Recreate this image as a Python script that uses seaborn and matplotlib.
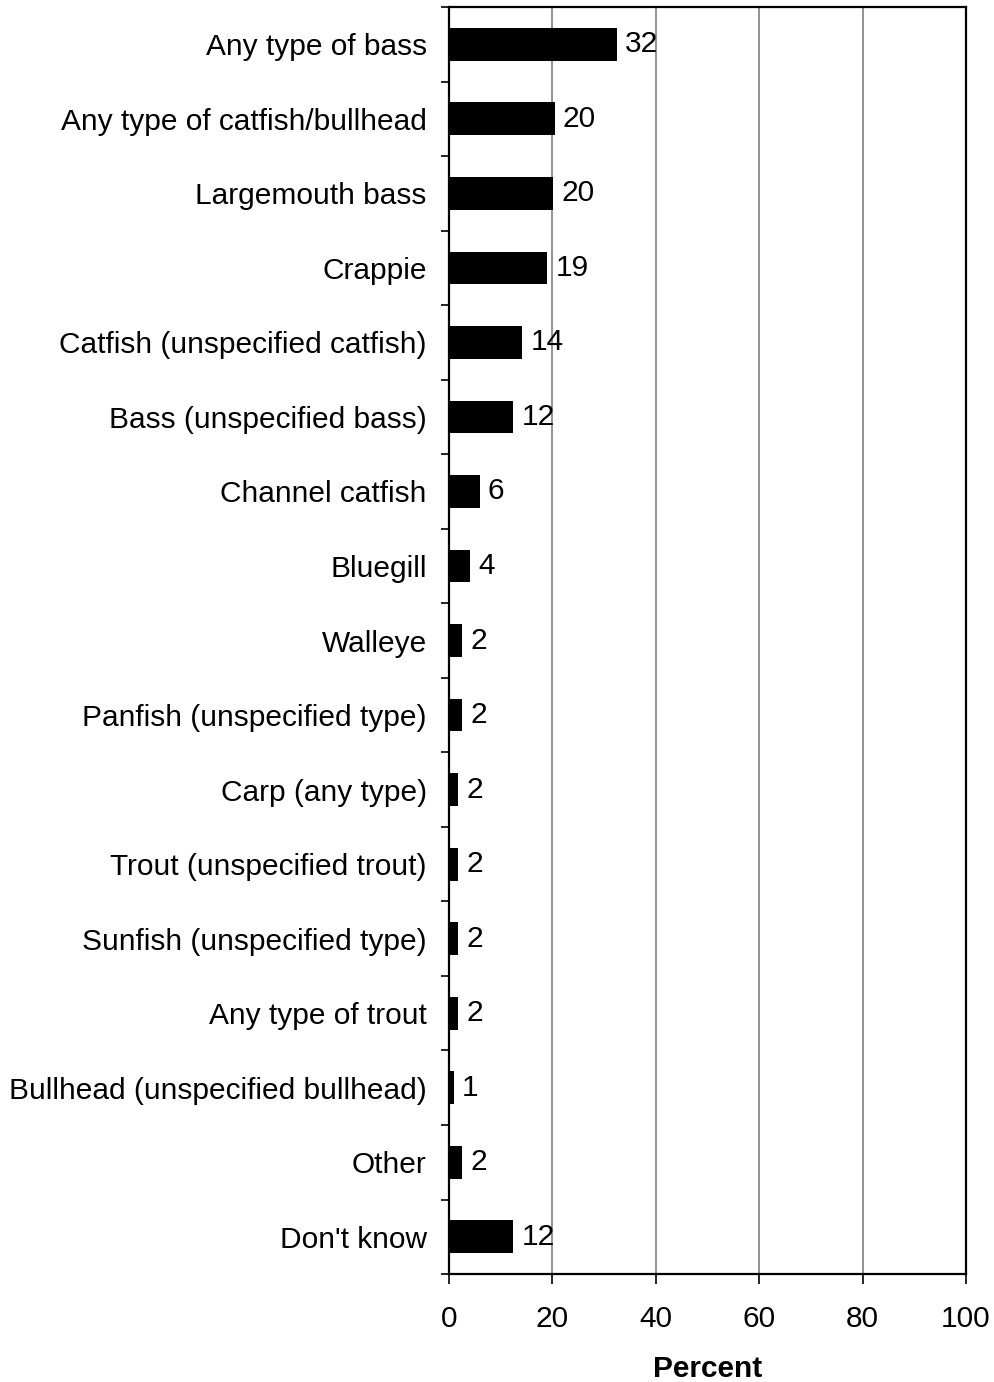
import matplotlib
matplotlib.use("Agg")
import matplotlib.pyplot as plt
import seaborn as sns
import pandas as pd
import numpy as np
from matplotlib.ticker import FixedLocator

species = [
    "Any type of bass",
    "Any type of catfish/bullhead",
    "Largemouth bass",
    "Crappie",
    "Catfish (unspecified catfish)",
    "Bass (unspecified bass)",
    "Channel catfish",
    "Bluegill",
    "Walleye",
    "Panfish (unspecified type)",
    "Carp (any type)",
    "Trout (unspecified trout)",
    "Sunfish (unspecified type)",
    "Any type of trout",
    "Bullhead (unspecified bullhead)",
    "Other",
    "Don't know",
]
percent = [32.4, 20.4, 20.2, 19.0, 14.1, 12.4, 5.9, 4.1, 2.5, 2.5,
           1.8, 1.8, 1.8, 1.8, 0.9, 2.5, 12.4]
x_ticks = [0, 20, 40, 60, 80, 100]

df = pd.DataFrame({"species": species, "percent": percent})

sns.set_style("white")
plt.rcParams["font.family"] = ["Liberation Sans", "DejaVu Sans"]
plt.rcParams["text.color"] = "black"
plt.rcParams["axes.labelcolor"] = "black"
plt.rcParams["xtick.color"] = "black"
plt.rcParams["ytick.color"] = "black"

FS = 21.5

fig = plt.figure(figsize=(9.95, 13.82), dpi=100)
ax = fig.add_axes([0.4513, 0.0781, 0.5196, 0.9168])

sns.barplot(data=df, x="percent", y="species", orient="h", color="black",
            width=0.44, saturation=1, ax=ax, edgecolor="black", linewidth=0)

ax.set_xlim(0, 100)
ax.set_ylim(len(species) - 0.5, -0.5)
ax.set_xticks(x_ticks)
ax.set_xticklabels([str(t) for t in x_ticks], fontsize=FS)
ax.xaxis.grid(True, color="#808080", linewidth=1.2)
ax.set_axisbelow(True)

# category labels without tick marks; tick marks sit between categories
ax.tick_params(axis="y", which="major", length=0, pad=16, labelsize=FS)
ax.yaxis.set_minor_locator(FixedLocator(np.arange(-0.5, len(species), 1.0)))
ax.tick_params(axis="y", which="minor", length=6, width=1.2, color="black",
               direction="out", left=True)
ax.tick_params(axis="x", which="major", length=7, width=1.2, color="black",
               direction="out", bottom=True, pad=15)

for side in ["left", "right", "top", "bottom"]:
    ax.spines[side].set_visible(True)
    ax.spines[side].set_color("black")
    ax.spines[side].set_linewidth(1.6)

ax.set_ylabel("")
ax.set_xlabel("Percent", fontsize=FS, fontweight="bold", labelpad=16)

for cont in ax.containers:
    ax.bar_label(cont, labels=[f"{v:.0f}" for v in cont.datavalues],
                 padding=6, fontsize=FS)

fig.savefig("out.png", dpi=100, facecolor="white")
